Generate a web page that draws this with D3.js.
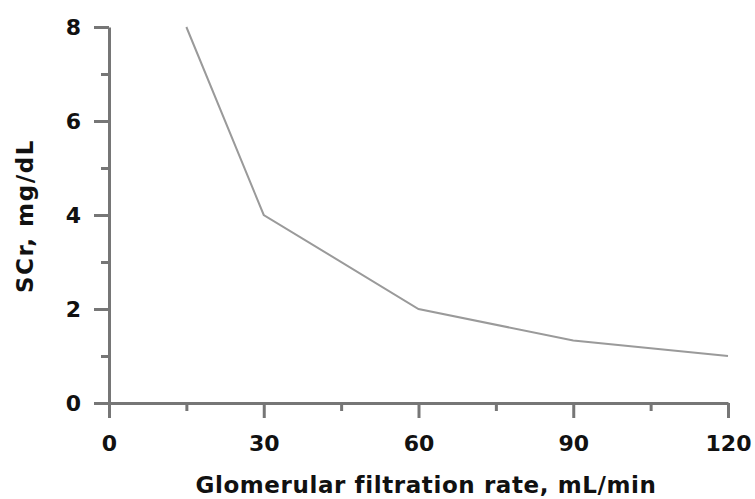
<!DOCTYPE html>
<html>
<head>
<meta charset="utf-8">
<script src="https://cdn.jsdelivr.net/npm/d3@7"></script>
<style>
  body { margin: 0; background: #fff; }
  text { font-family: "DejaVu Sans", Verdana, sans-serif; font-weight: bold; fill: #111; }
</style>
</head>
<body>
<div class="graph"></div>
<script>
let gfr = [15, 30, 60, 90, 120];
let scr = [8, 4, 2, 1.33, 1];
let xTicks = [0, 30, 60, 90, 120];
let xMinor = [15, 45, 75, 105];
let yTicks = [0, 2, 4, 6, 8];
let yMinor = [1, 3, 5, 7];

let w = 755;
let h = 499;
let margin = { left: 109, top: 27, right: 27, bottom: 96 };
let iw = w - margin.left - margin.right;
let ih = h - margin.top - margin.bottom;

let svg = d3
  .select(".graph")
  .append("svg")
  .attr("width", w)
  .attr("height", h);

let g = svg.append("g").attr("transform", `translate(${margin.left},${margin.top})`);

let xScale = d3.scaleLinear().domain([0, 120]).range([0, iw]);
let yScale = d3.scaleLinear().domain([0, 8]).range([ih, 0]);

let axisColor = "#767676";

// minor ticks first
g.append("g")
  .attr("transform", `translate(0,${ih})`)
  .call(d3.axisBottom(xScale).tickValues(xMinor).tickSize(8).tickFormat(""))
  .call(a => a.select(".domain").remove());
g.append("g")
  .call(d3.axisLeft(yScale).tickValues(yMinor).tickSize(8).tickFormat(""))
  .call(a => a.select(".domain").remove());

let xAxis = g
  .append("g")
  .attr("transform", `translate(0,${ih})`)
  .call(d3.axisBottom(xScale).tickValues(xTicks).tickSize(15).tickSizeOuter(0).tickPadding(17));
let yAxis = g
  .append("g")
  .call(d3.axisLeft(yScale).tickValues(yTicks).tickSize(15).tickSizeOuter(0).tickPadding(13));

g.selectAll(".tick line, .domain")
  .attr("stroke", axisColor)
  .attr("stroke-width", 3);
g.selectAll(".tick text")
  .style("font-size", "22px")
  .attr("fill", "#111");

let line = d3
  .line()
  .x((d, i) => xScale(gfr[i]))
  .y(d => yScale(d));

g.append("path")
  .datum(scr)
  .attr("d", line)
  .attr("fill", "none")
  .attr("stroke", "#9a9a9a")
  .attr("stroke-width", 2);

svg.append("text")
  .attr("x", 426)
  .attr("y", 493)
  .attr("text-anchor", "middle")
  .style("font-size", "23px")
  .style("letter-spacing", "0.6px")
  .text("Glomerular filtration rate, mL/min");

svg.append("text")
  .attr("transform", `translate(33,216) rotate(-90)`)
  .attr("text-anchor", "middle")
  .style("font-size", "23px")
  .style("letter-spacing", "1.6px")
  .text("SCr, mg/dL");
</script>
</body>
</html>
